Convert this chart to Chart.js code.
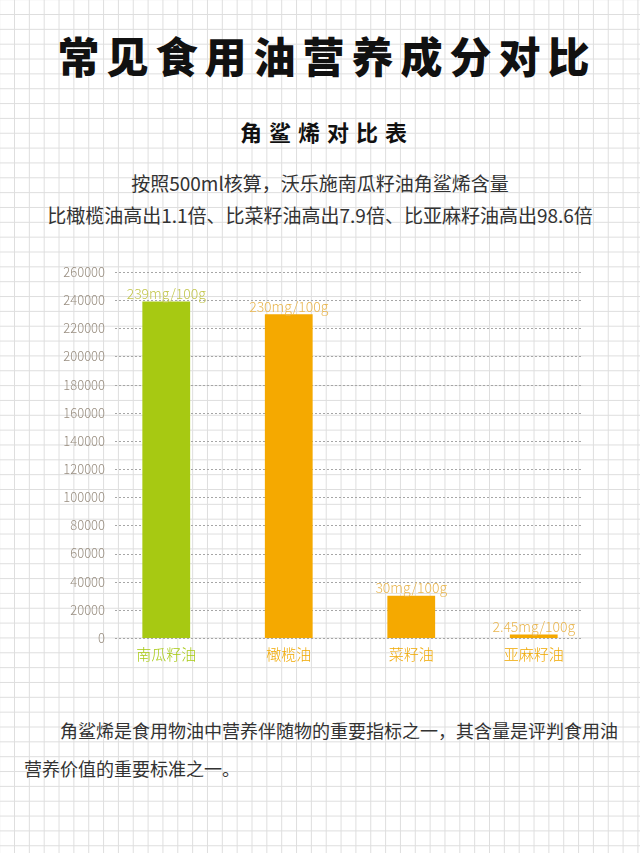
<!DOCTYPE html>
<html>
<head>
<meta charset="utf-8">
<script src="https://cdn.jsdelivr.net/npm/chart.js@4.4.1/dist/chart.umd.min.js"></script>
<style>
body {
    margin: 0;
    width: 640px;
    height: 853px;
    overflow: hidden;
    position: relative;
    background-color: #fff;
    background-image:
        linear-gradient(to right, #dedede 1px, transparent 1px),
        linear-gradient(to bottom, #dedede 1px, transparent 1px);
    background-size: 14.85px 14.85px;
    background-position: 14px 14px;
    font-family: 'Noto Sans CJK SC', sans-serif;
}
.txt { position: absolute; left: 0; width: 640px; text-align: center; color: #333; }
.title { top: 28px; font-size: 42px; font-weight: 900; letter-spacing: 7px; padding-left: 7px; line-height: 54px; color: #111; }
.sub { top: 116px; font-size: 22px; font-weight: 700; letter-spacing: 7px; padding-left: 7px; line-height: 30px; color: #111; }
.line { font-size: 19px; line-height: 30px; }
.para { position: absolute; left: 24px; font-size: 18px; line-height: 30px; color: #333; }
#wrap { position: absolute; left: 0; top: 250px; width: 640px; height: 420px; }
</style>
</head>
<body>
<div class="txt title">常见食用油营养成分对比</div>
<div class="txt sub">角鲨烯对比表</div>
<div class="txt line" style="top:168px">按照500ml核算，沃乐施南瓜籽油角鲨烯含量</div>
<div class="txt line" style="top:200px">比橄榄油高出1.1倍、比菜籽油高出7.9倍、比亚麻籽油高出98.6倍</div>
<div class="para" style="top:715px; left:60px">角鲨烯是食用物油中营养伴随物的重要指标之一，其含量是评判食用油</div>
<div class="para" style="top:753px">营养价值的重要标准之一。</div>
<div id="wrap"><canvas id="chart"></canvas></div>
<script>
const oils = ['南瓜籽油', '橄榄油', '菜籽油', '亚麻籽油'];
const squalene = [239000, 230000, 30000, 2450];
const valueLabels = ['239mg/100g', '230mg/100g', '30mg/100g', '2.45mg/100g'];
const barColors = ['#a7c912', '#f5a900', '#f5a900', '#f5a900'];
const labelColors = ['#c3c64e', '#e9b650', '#e9b650', '#e9b650'];
const tickColors = ['#a7c912', '#f0a800', '#f0a800', '#f0a800'];

// dotted grid lines, a little shorter than the plot
const dottedGrid = {
    id: 'dottedGrid',
    beforeDatasetsDraw(chart) {
        const ctx = chart.ctx;
        const y = chart.scales.y;
        const area = chart.chartArea;
        ctx.save();
        ctx.strokeStyle = '#a6a6a6';
        ctx.lineWidth = 1;
        ctx.setLineDash([2, 2]);
        y.ticks.forEach(t => {
            const py = Math.round(y.getPixelForValue(t.value)) + 0.5;
            ctx.beginPath();
            ctx.moveTo(area.left + 10, py);
            ctx.lineTo(area.right - 13, py);
            ctx.stroke();
        });
        ctx.restore();
    }
};

// value labels above bars
const barLabels = {
    id: 'barLabels',
    afterDatasetsDraw(chart) {
        const ctx = chart.ctx;
        const meta = chart.getDatasetMeta(0);
        ctx.save();
        ctx.font = '300 14px "Noto Sans CJK SC"';
        ctx.textAlign = 'center';
        ctx.textBaseline = 'bottom';
        meta.data.forEach((bar, i) => {
            ctx.fillStyle = labelColors[i];
            ctx.fillText(valueLabels[i], bar.x, bar.y - 1);
        });
        ctx.restore();
    }
};

new Chart(document.getElementById('chart'), {
    type: 'bar',
    data: {
        labels: oils,
        datasets: [{
            data: squalene,
            backgroundColor: barColors,
            barPercentage: 0.39,
            categoryPercentage: 1
        }]
    },
    options: {
        responsive: true,
        maintainAspectRatio: false,
        animation: false,
        layout: { padding: { top: 22, right: 45, bottom: 0, left: 0 } },
        plugins: { legend: { display: false }, tooltip: { enabled: false } },
        scales: {
            x: {
                grid: { display: false, drawTicks: false },
                border: { display: false },
                ticks: {
                    color: tickColors,
                    padding: 7,
                    font: { family: 'Noto Sans CJK SC', size: 15, weight: '300' }
                }
            },
            y: {
                min: 0,
                max: 260000,
                afterFit(scale) { scale.width = 105; },
                grid: { display: false, drawTicks: false },
                border: { display: false },
                ticks: {
                    stepSize: 20000,
                    padding: 0,
                    color: '#998e80',
                    callback: v => String(v),
                    font: { family: 'Noto Sans CJK SC', size: 13, weight: '300' }
                }
            }
        }
    },
    plugins: [dottedGrid, barLabels]
});
</script>
</body>
</html>
